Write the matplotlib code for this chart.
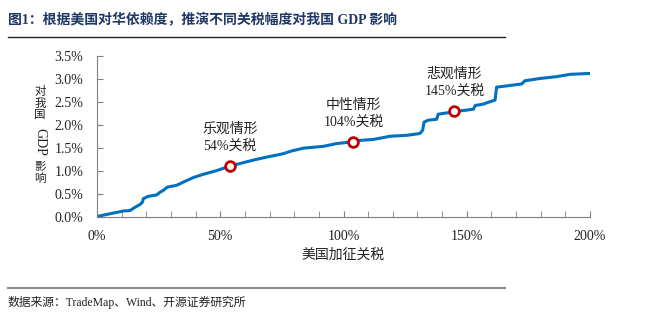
import matplotlib.pyplot as plt
from matplotlib.ticker import MultipleLocator, FuncFormatter
from matplotlib.lines import Line2D

# 美国加征关税 (%) 与 对我国GDP影响 (%)
tariff = [0, 5.3, 10.7, 13.4, 15.4, 17.4, 18.4, 18.8, 20.8, 24.2, 25.6, 26.9, 28.5,
          32.3, 35.0, 39.1, 43.1, 48.5, 54, 63.4, 67.5, 75.6, 79.0, 83.7, 91.8,
          97.2, 104, 106.7, 112.1, 118.9, 125.6, 131.0, 132.1, 132.7, 134.4, 137.8,
          138.4, 143.2, 145, 150, 152.7, 153.4, 156.7, 158.7, 161.5, 162.1, 172.3,
          173.6, 179.7, 186.5, 191.9, 200]
impact = [0, 0.06, 0.12, 0.13, 0.20, 0.26, 0.31, 0.39, 0.44, 0.47, 0.53, 0.57, 0.64,
          0.68, 0.75, 0.85, 0.92, 1.00, 1.10, 1.23, 1.28, 1.37, 1.43, 1.49, 1.53,
          1.59, 1.63, 1.66, 1.68, 1.75, 1.77, 1.81, 1.88, 2.06, 2.10, 2.12,
          2.23, 2.27, 2.29, 2.32, 2.34, 2.42, 2.45, 2.49, 2.54, 2.82, 2.89,
          2.96, 3.01, 3.05, 3.10, 3.12]

case_names = ['乐观情形', '中性情形', '悲观情形']
case_tariff = [54, 104, 145]
case_impact = [1.10, 1.63, 2.29]

fam = ['Liberation Serif', 'Noto Sans CJK SC']
plt.rcParams['font.family'] = fam

fig = plt.figure(figsize=(6.47, 3.21), dpi=100)
ax = fig.add_axes([97 / 647, 1 - 216.5 / 321, 493 / 647, 160.5 / 321])

ax.plot(tariff, impact, color='#0070C0', lw=2.2, solid_joinstyle='round', zorder=2)
ax.plot(case_tariff, case_impact, 'o', ms=7, mfc='white', mec='#C00000', mew=2, zorder=3)

for name, t, v in zip(case_names, case_tariff, case_impact):
    ax.annotate(f'{name}\n{t}%关税', (t, v), xytext=(0, 9), textcoords='offset points',
                ha='center', va='bottom', fontsize=10, linespacing=1.45, color='#222222')

ax.set_xlim(0, 200)
ax.set_ylim(0, 3.5)
ax.xaxis.set_major_locator(MultipleLocator(50))
ax.xaxis.set_minor_locator(MultipleLocator(10))
ax.yaxis.set_major_locator(MultipleLocator(0.5))
ax.xaxis.set_major_formatter(FuncFormatter(lambda v, p: f'{v:.0f}%'))
ax.yaxis.set_major_formatter(FuncFormatter(lambda v, p: f'{v:.1f}%'))
for s in ['top', 'right']:
    ax.spines[s].set_visible(False)
for s in ['left', 'bottom']:
    ax.spines[s].set_color('#808080')
ax.tick_params(which='both', direction='in', length=4, color='#808080', labelsize=10, labelcolor='#222222')
ax.tick_params(axis='x', pad=10)
ax.tick_params(axis='y', pad=10)

# 纵轴标题（竖排）
ylab_chars = [('对', 92), ('我', 103.5), ('国', 115), ('GDP', 142), ('影', 167), ('响', 179)]
for ch, py in ylab_chars:
    if ch == 'GDP':
        fig.text(40 / 647, 1 - py / 321, ch, ha='center', va='center', fontsize=10, rotation=270, color='#222222')
    else:
        fig.text(40 / 647, 1 - py / 321, ch, ha='center', va='center', fontsize=8.3, color='#222222')

fig.text(343 / 647, 1 - 255 / 321, '美国加征关税', ha='center', va='center', fontsize=10, color='#222222')

fig.text(8 / 647, 1 - 20 / 321, '图1：根据美国对华依赖度，推演不同关税幅度对我国 GDP 影响',
         ha='left', va='center', fontsize=10, fontweight='bold', color='#1F3864')
fig.add_artist(Line2D([8 / 647, 505 / 647], [1 - 36.5 / 321] * 2, color='#222222', lw=1))
fig.add_artist(Line2D([8 / 647, 505 / 647], [1 - 288 / 321] * 2, color='#8c8c8c', lw=1.5))
fig.text(8 / 647, 1 - 302 / 321, '数据来源：TradeMap、Wind、开源证券研究所',
         ha='left', va='center', fontsize=8.5, color='#222222')

fig.savefig('out.png', dpi=100)
